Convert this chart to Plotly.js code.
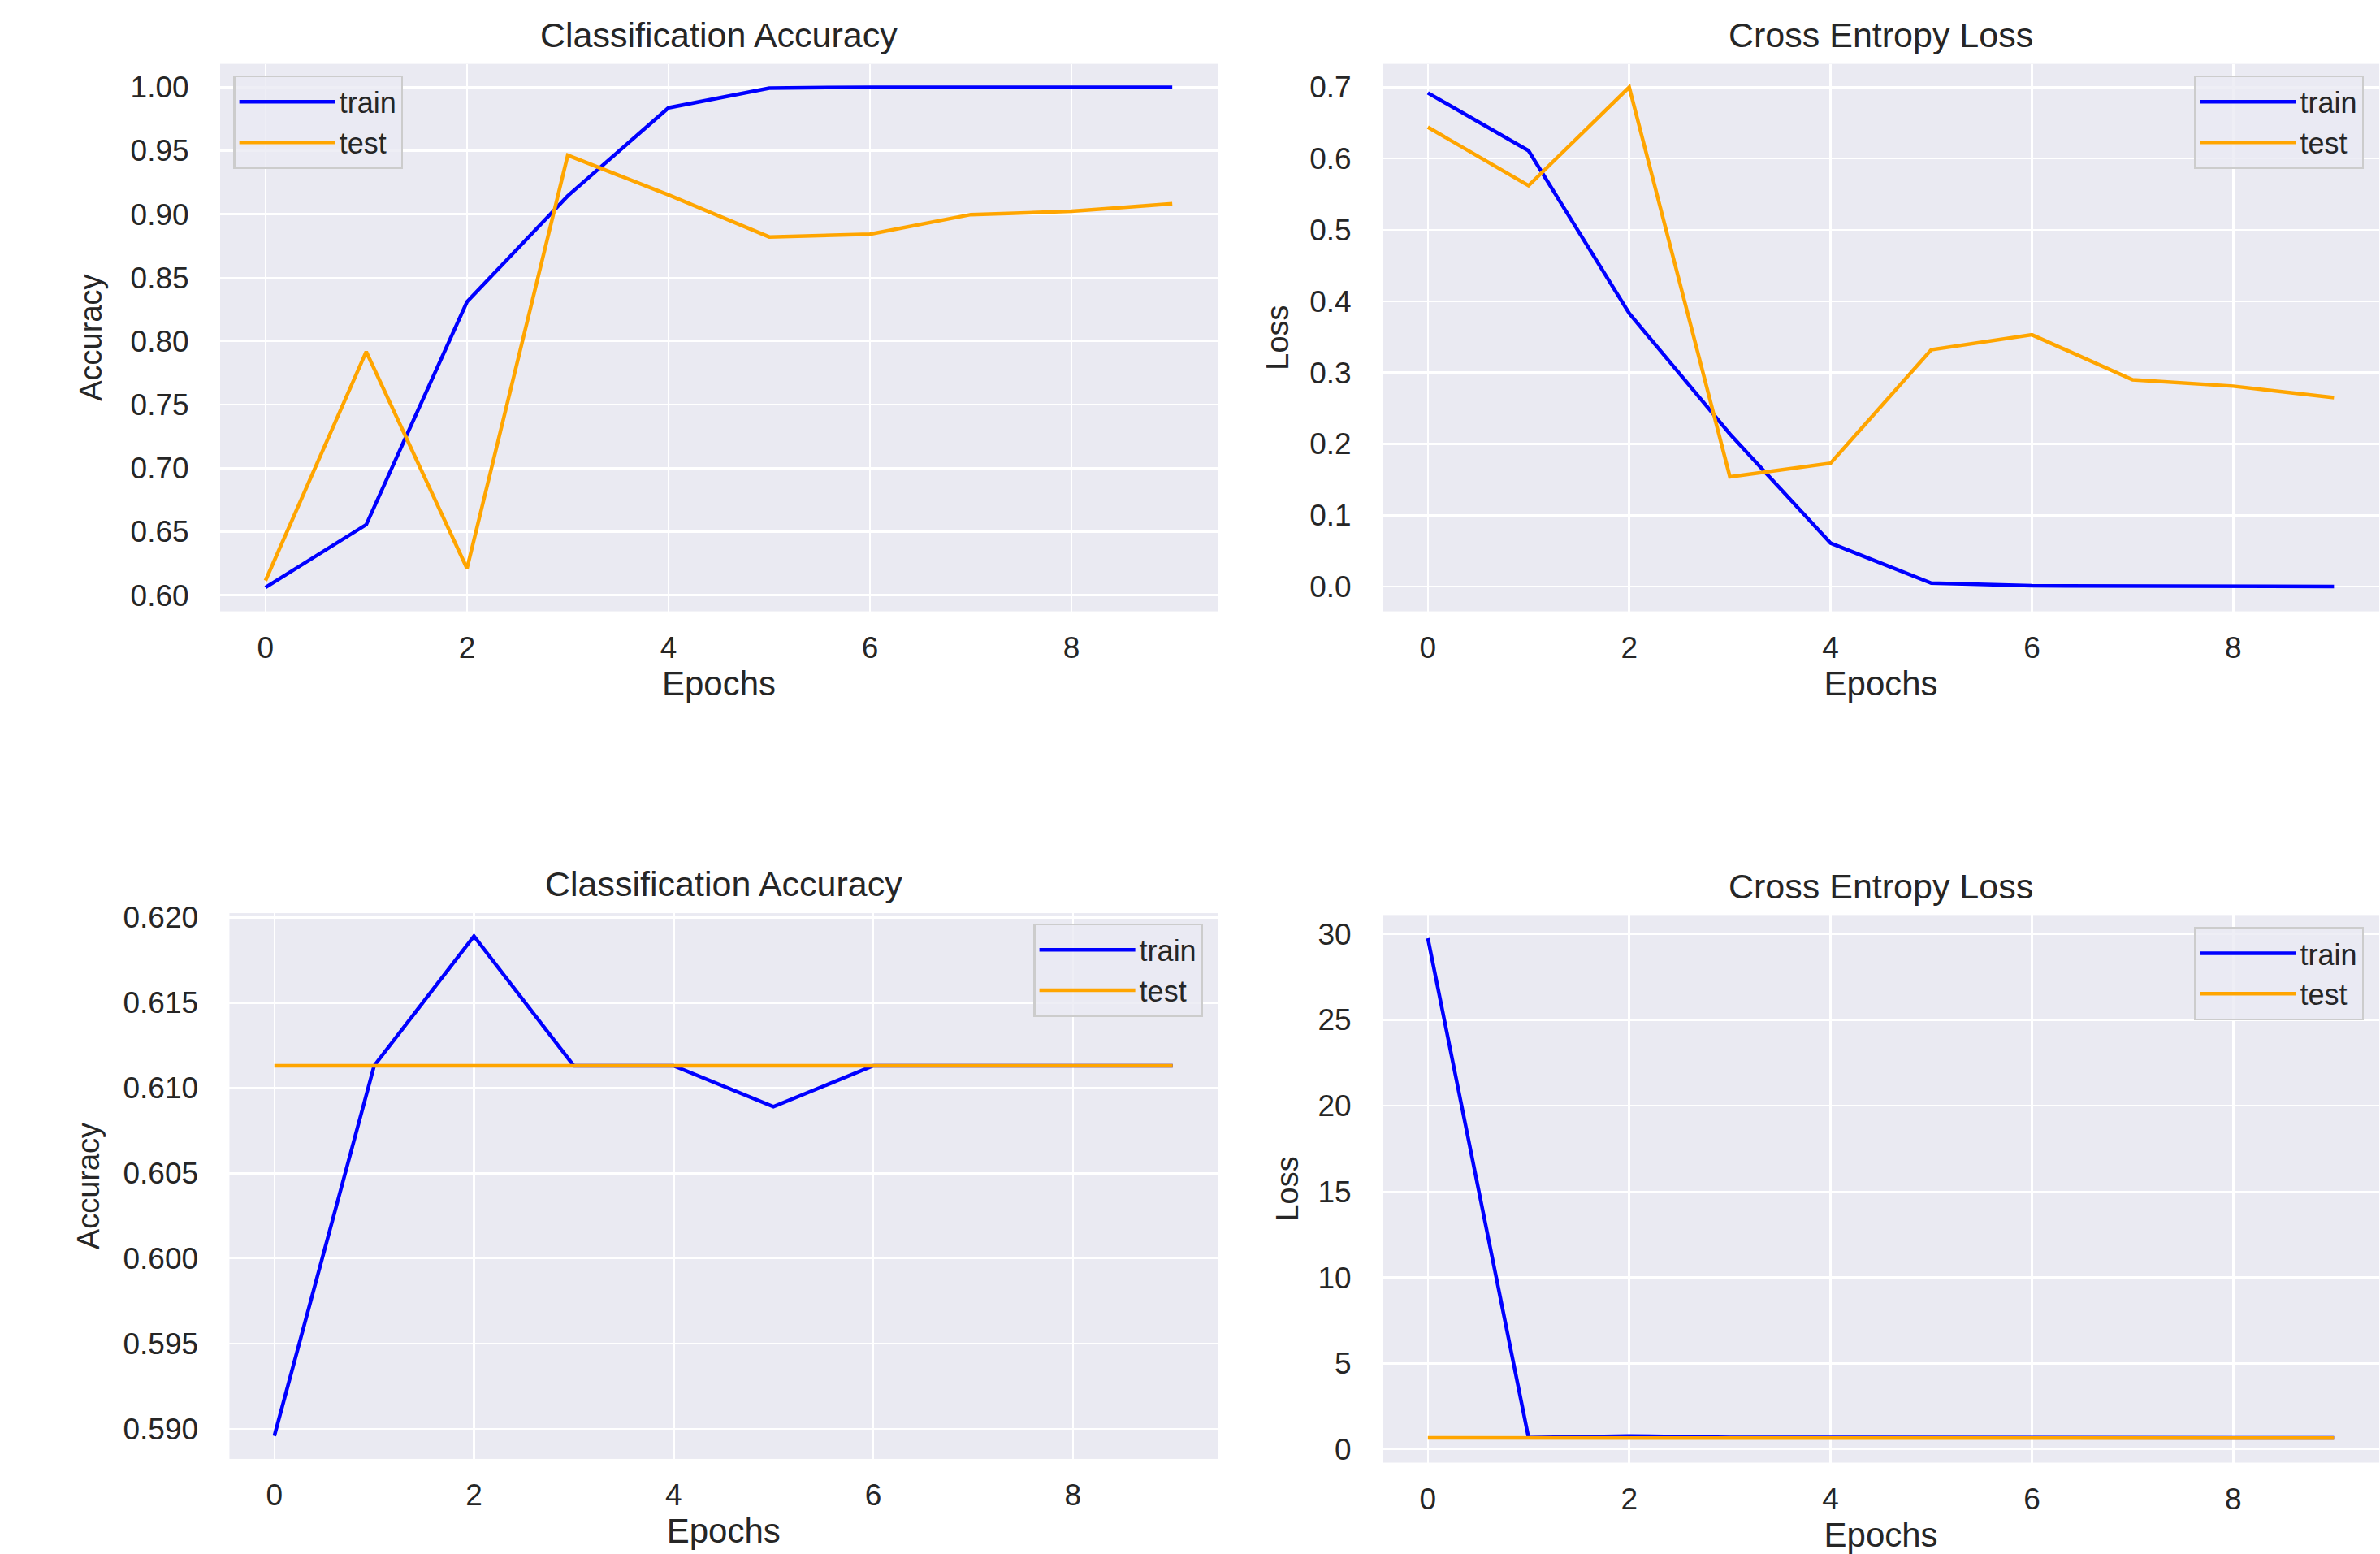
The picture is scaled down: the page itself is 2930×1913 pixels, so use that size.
<!DOCTYPE html>
<html>
<head>
<meta charset="utf-8">
<script src="https://cdn.plot.ly/plotly-3.0.1.min.js"></script>
<style>html,body{margin:0;padding:0;background:#fff;}#chart{width:2930px;height:1913px;}</style>
</head>
<body>
<div id="chart"></div>
<script>
// ---- data ----
const epochs = [0, 1, 2, 3, 4, 5, 6, 7, 8, 9];

const acc1Train = [0.606, 0.6555, 0.831, 0.9144, 0.9838, 0.9993, 1.0, 1.0, 1.0, 1.0];
const acc1Test  = [0.6114, 0.7917, 0.621, 0.9464, 0.9152, 0.8821, 0.8843, 0.8997, 0.9023, 0.9082];

const loss1Train = [0.692, 0.611, 0.383, 0.214, 0.061, 0.005, 0.0013, 0.0006, 0.0003, 0.0002];
const loss1Test  = [0.644, 0.562, 0.700, 0.154, 0.173, 0.332, 0.353, 0.290, 0.281, 0.265];

const acc2Train = [0.5896, 0.6113, 0.6189, 0.6113, 0.6113, 0.6089, 0.6113, 0.6113, 0.6113, 0.6113];
const acc2Test  = [0.6113, 0.6113, 0.6113, 0.6113, 0.6113, 0.6113, 0.6113, 0.6113, 0.6113, 0.6113];

const loss2Train = [29.75, 0.69, 0.78, 0.70, 0.70, 0.68, 0.68, 0.67, 0.67, 0.67];
const loss2Test  = [0.67, 0.65, 0.66, 0.66, 0.66, 0.66, 0.66, 0.66, 0.66, 0.66];

const seriesNames = ['train', 'test'];
const titles = ['Classification Accuracy', 'Cross Entropy Loss', 'Classification Accuracy', 'Cross Entropy Loss'];
const yLabels = ['Accuracy', 'Loss', 'Accuracy', 'Loss'];
const xLabel = 'Epochs';

// ---- styling ----
const FONT = 'Liberation Sans, Arial, sans-serif';
const TXT = '#262626';
const BLUE = '#0000ff';
const ORANGE = '#ffa500';
const LW = 4.5;

function mk(x, y, name, color, xa, ya, leg) {
  return {x: x, y: y, name: name, type: 'scatter', mode: 'lines',
          line: {color: color, width: LW}, xaxis: xa, yaxis: ya, legend: leg};
}

const data = [
  mk(epochs, acc1Train, seriesNames[0], BLUE, 'x', 'y', 'legend'),
  mk(epochs, acc1Test, seriesNames[1], ORANGE, 'x', 'y', 'legend'),
  mk(epochs, loss1Train, seriesNames[0], BLUE, 'x2', 'y2', 'legend2'),
  mk(epochs, loss1Test, seriesNames[1], ORANGE, 'x2', 'y2', 'legend2'),
  mk(epochs, acc2Train, seriesNames[0], BLUE, 'x3', 'y3', 'legend3'),
  mk(epochs, acc2Test, seriesNames[1], ORANGE, 'x3', 'y3', 'legend3'),
  mk(epochs, loss2Train, seriesNames[0], BLUE, 'x4', 'y4', 'legend4'),
  mk(epochs, loss2Test, seriesNames[1], ORANGE, 'x4', 'y4', 'legend4')
];

function xax(domain, anchor) {
  return {domain: domain, anchor: anchor, range: [-0.45, 9.45], tickvals: [0, 2, 4, 6, 8],
    showgrid: true, gridcolor: '#ffffff', gridwidth: 2.5, zeroline: false, showline: false,
    ticks: 'outside', ticklen: 12, tickcolor: 'rgba(0,0,0,0)',
    tickfont: {family: FONT, size: 37, color: TXT},
    title: {text: xLabel, font: {family: FONT, size: 42, color: TXT}, standoff: 8}};
}
function yax(domain, anchor, range, dtick, fmt, label, standoff) {
  return {domain: domain, anchor: anchor, range: range, dtick: dtick, tick0: 0, tickformat: fmt,
    showgrid: true, gridcolor: '#ffffff', gridwidth: 2.5, zeroline: false, showline: false,
    ticks: 'outside', ticklen: 30, tickcolor: 'rgba(0,0,0,0)',
    tickfont: {family: FONT, size: 37, color: TXT},
    title: {text: label, font: {family: FONT, size: 38, color: TXT}, standoff: standoff}};
}
function leg(x, y, xanchor) {
  return {x: x, y: y, xanchor: xanchor, yanchor: 'top', xref: 'paper', yref: 'paper',
    bgcolor: 'rgba(234,234,242,0.8)', bordercolor: '#cccccc', borderwidth: 2.5,
    font: {family: FONT, size: 36, color: TXT}, itemwidth: 118, tracegroupgap: 0};
}
function ttl(text, x, y) {
  return {text: text, x: x, y: y, xref: 'paper', yref: 'paper', xanchor: 'center', yanchor: 'middle',
    showarrow: false, font: {family: FONT, size: 43, color: TXT}};
}

const layout = {
  width: 2930, height: 1913,
  margin: {l: 0, r: 0, t: 0, b: 0},
  paper_bgcolor: '#ffffff', plot_bgcolor: '#eaeaf2',
  font: {family: FONT, color: TXT},
  showlegend: true,
  xaxis:  xax([0.0925, 0.5116], 'y'),
  yaxis:  yax([0.6066, 0.9589], 'x', [0.5872, 1.0184], 0.05, '.2f', yLabels[0], 23),
  xaxis2: xax([0.5809, 0.9997], 'y2'),
  yaxis2: yax([0.6066, 0.9589], 'x2', [-0.0346, 0.7327], 0.1, '.1f', yLabels[1], 13),
  xaxis3: xax([0.0964, 0.5116], 'y3'),
  yaxis3: yax([0.0612, 0.4124], 'x3', [0.58825, 0.62025], 0.005, '.3f', yLabels[2], 17),
  xaxis4: xax([0.5809, 0.9997], 'y4'),
  yaxis4: yax([0.0588, 0.4112], 'x4', [-0.77, 31.10], 5, 'd', yLabels[3], 12),
  legend:  leg(0.0980, 0.9514, 'left'),
  legend2: leg(0.9932, 0.9514, 'right'),
  legend3: leg(0.5055, 0.4057, 'right'),
  legend4: leg(0.9932, 0.4035, 'right'),
  annotations: [
    ttl(titles[0], 0.3020, 0.9775),
    ttl(titles[1], 0.7903, 0.9775),
    ttl(titles[2], 0.3040, 0.4315),
    ttl(titles[3], 0.7903, 0.4297)
  ]
};

Plotly.newPlot('chart', data, layout, {displayModeBar: false, staticPlot: true});
</script>
</body>
</html>
